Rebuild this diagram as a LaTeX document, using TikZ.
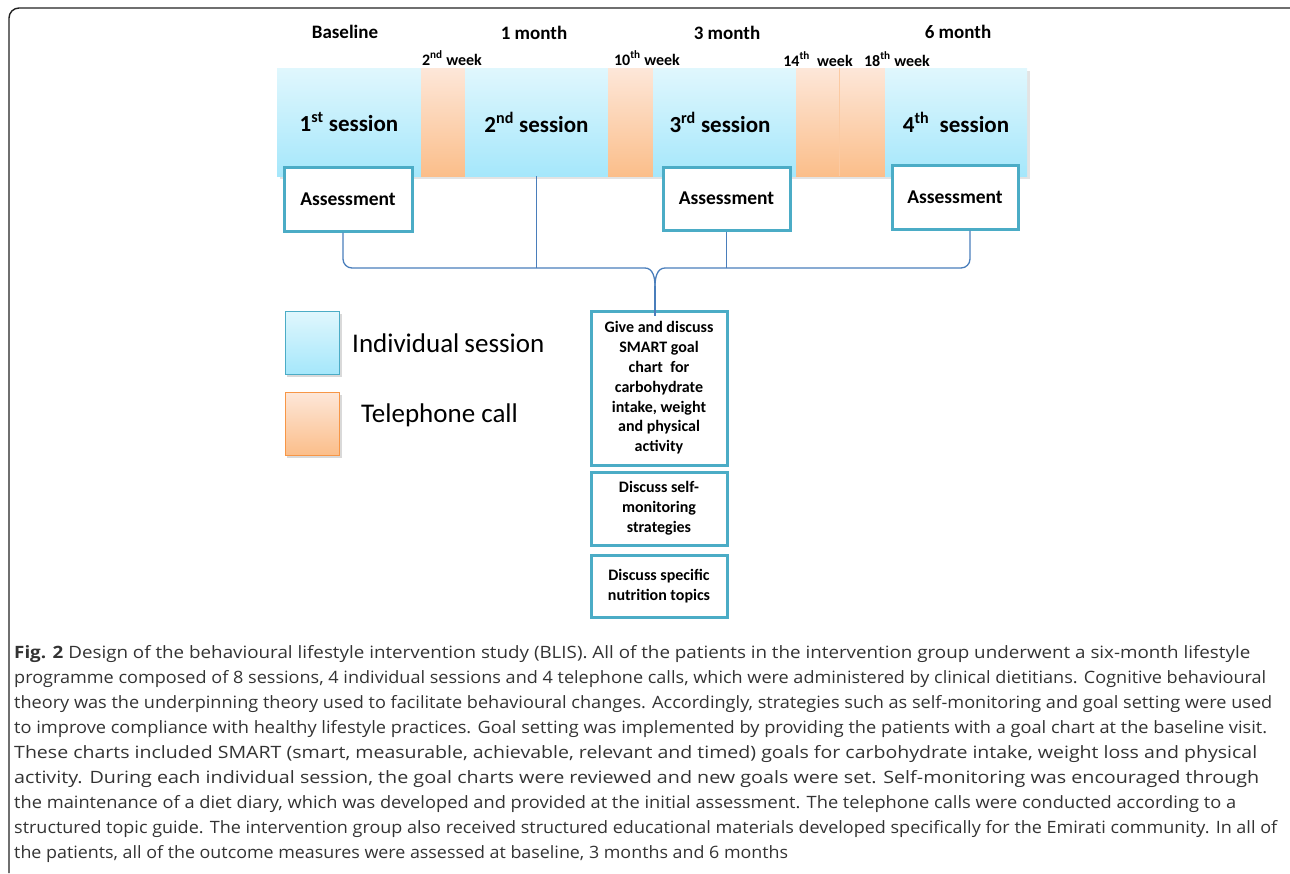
\documentclass[tikz,border=0pt]{standalone}
\usepackage{fontspec}
\setmainfont{Carlito}
\newfontfamily\capfont{Open Sans}
\usetikzlibrary{calc}
\definecolor{teal}{HTML}{4BACC6}
\definecolor{conncol}{HTML}{4A7EBB}
\definecolor{bluetop}{HTML}{E0F7FD}
\definecolor{bluebot}{HTML}{A5E7FB}
\definecolor{orgtop}{HTML}{FDE7D9}
\definecolor{orgbot}{HTML}{FBBE8A}
\definecolor{orgedge}{HTML}{F79646}
\definecolor{framecol}{HTML}{222222}
\definecolor{captext}{HTML}{333333}
\newsavebox\capbox
\newcommand\capline[2]{\sbox\capbox{#2}\pgfmathsetmacro\capsc{#1/\the\wd\capbox}\scalebox{\capsc}[1]{\usebox\capbox}}
\tikzset{
  blueseg/.style={top color=bluetop,bottom color=bluebot,draw=none,inner sep=0pt,outer sep=0pt,font=\fontsize{23}{26}\selectfont\bfseries},
  orgseg/.style={top color=orgtop,bottom color=orgbot,draw=none,inner sep=0pt,outer sep=0pt},
  assess/.style={draw=teal,line width=3pt,fill=white,inner sep=0pt,font=\fontsize{19.5}{21}\selectfont\bfseries},
  toplabel/.style={font=\fontsize{19}{21}\selectfont\bfseries,inner sep=0pt},
  weeklabel/.style={font=\fontsize{16}{18}\selectfont\bfseries,inner sep=0pt},
  stackbox/.style={draw=teal,line width=3pt,fill=white,inner sep=0pt,align=center,font=\fontsize{16}{19.8}\selectfont\bfseries},
  conn/.style={draw=conncol,line width=1.3pt},
  legtext/.style={font=\fontsize{27}{29}\selectfont,inner sep=0pt,anchor=west},
  capl/.style={anchor=base west,inner sep=0pt,text=captext,font=\capfont\fontsize{17}{20}\selectfont},
}
\begin{document}
\begin{tikzpicture}[x=1pt,y=-1pt]
\useasboundingbox (0,0) rectangle (1290,873);
% frame
\draw[framecol,line width=1.4pt,rounded corners=10pt] (9,873) -- (9,8) -- (1290,8);
% band shadow
\fill[black!18,opacity=0.6] (280,71) rectangle (1030,179);
% band segments
\node[blueseg,minimum width=144,minimum height=108] (s1) at (349,122) {1\textsuperscript{st} session};
\node[orgseg,minimum width=44,minimum height=108] (t1) at (443,122) {};
\node[blueseg,minimum width=143,minimum height=108] (s2) at (536.5,122) {2\textsuperscript{nd} session};
\node[orgseg,minimum width=45,minimum height=108] (t2) at (630.5,122) {};
\node[blueseg,minimum width=143,minimum height=108] (s3) at (724.5,122) {\hspace*{-9pt}3\textsuperscript{rd} session};
\node[orgseg,minimum width=43,minimum height=108] (t3) at (817.5,122) {};
\node[orgseg,minimum width=46,minimum height=108] (t4) at (862,122) {};
\draw[orgedge!50,line width=0.6pt] (t3.north east) -- (t3.south east);
\node[blueseg,minimum width=142,minimum height=108] (s4) at (956,122) {4\textsuperscript{th}\ \ session};
% top labels
\node[toplabel] (lb) at (345,32) {Baseline};
\node[toplabel] (l1) at (534,33) {1 month};
\node[toplabel] (l3) at (727,33) {3 month};
\node[toplabel] (l6) at (958,32) {6 month};
\node[weeklabel] (w2) at (452,58) {2\textsuperscript{nd} week};
\node[weeklabel] (w10) at (647,58) {10\textsuperscript{th} week};
\node[weeklabel] (w14) at (818,59) {14\textsuperscript{th}\ \ week};
\node[weeklabel] (w18) at (897,59) {18\textsuperscript{th} week};
% assessment boxes
\node[assess,minimum width=128,minimum height=64] (a1) at (348,199) {Assessment};
\node[assess,minimum width=127,minimum height=63] (a2) at (726.5,198.5) {Assessment};
\node[assess,minimum width=126,minimum height=64] (a3) at (955,197) {Assessment};
% stack boxes
\node[stackbox,minimum width=136,minimum height=154] (gA) at (659,388) {Give and discuss\\SMART goal\\chart\ \ for\\carbohydrate\\intake, weight\\and physical\\activity};
\node[stackbox,minimum width=136,minimum height=73] (gB) at (659,508.5) {Discuss self-\\monitoring\\strategies};
\node[stackbox,minimum width=136,minimum height=62] (gC) at (659,586) {Discuss specific\\nutrition topics};
% connectors (brace)
\coordinate (tip) at (655,286);
\draw[conn,rounded corners=9pt] ([xshift=-5pt]a1.south) |- (645,268);
\draw[conn] (645,268) to[out=0,in=90] (tip);
\draw[conn,rounded corners=9pt] ([xshift=15pt]a3.south) |- (665,268);
\draw[conn] (665,268) to[out=180,in=90] (tip);
\draw[conn] (tip) -- ([xshift=-4pt,yshift=-6pt]gA.north);
\draw[conn] (s2.south) -- (s2.south |- 0,268);
\draw[conn] (a2.south) -- (a2.south |- 0,268);
% legend
\fill[black!25,opacity=0.6] (287,314) rectangle (342,377);
\fill[black!25,opacity=0.6] (287,395) rectangle (342,458);
\node[top color=bluetop,bottom color=bluebot,draw=teal,line width=1pt,minimum width=54,minimum height=63,inner sep=0pt] (legB) at (312,342.5) {};
\node[top color=orgtop,bottom color=orgbot,draw=orgedge,line width=1pt,minimum width=54,minimum height=63,inner sep=0pt] (legO) at (312,423.5) {};
\node[legtext] (legBt) at (352,343) {Individual\hspace{-1pt} session};
\node[legtext] (legOt) at (361,415) {Telephone call};
% caption
\node[capl] (c1) at (14,658) {\capline{1236}{\textbf{Fig. 2} Design of the behavioural lifestyle intervention study (BLIS). All of the patients in the intervention group underwent a six-month lifestyle}};
\node[capl] (c2) at (14,683) {\capline{1252}{programme composed of 8 sessions, 4 individual sessions and 4 telephone calls, which were administered by clinical dietitians. Cognitive behavioural}};
\node[capl] (c3) at (14,708) {\capline{1258}{theory was the underpinning theory used to facilitate behavioural changes. Accordingly, strategies such as self-monitoring and goal setting were used}};
\node[capl] (c4) at (14,733) {\capline{1253}{to improve compliance with healthy lifestyle practices. Goal setting was implemented by providing the patients with a goal chart at the baseline visit.}};
\node[capl] (c5) at (14,758) {\capline{1243}{These charts included SMART (smart, measurable, achievable, relevant and timed) goals for carbohydrate intake, weight loss and physical}};
\node[capl] (c6) at (14,783) {\capline{1245}{activity. During each individual session, the goal charts were reviewed and new goals were set. Self-monitoring was encouraged through}};
\node[capl] (c7) at (14,808) {\capline{1222}{the maintenance of a diet diary, which was developed and provided at the initial assessment. The telephone calls were conducted according to a}};
\node[capl] (c8) at (14,833) {\capline{1263}{structured topic guide. The intervention group also received structured educational materials developed specifically for the Emirati community. In all of}};
\node[capl] (c9) at (14,858) {\capline{774}{the patients, all of the outcome measures were assessed at baseline, 3 months and 6 months}};
\end{tikzpicture}
\end{document}
